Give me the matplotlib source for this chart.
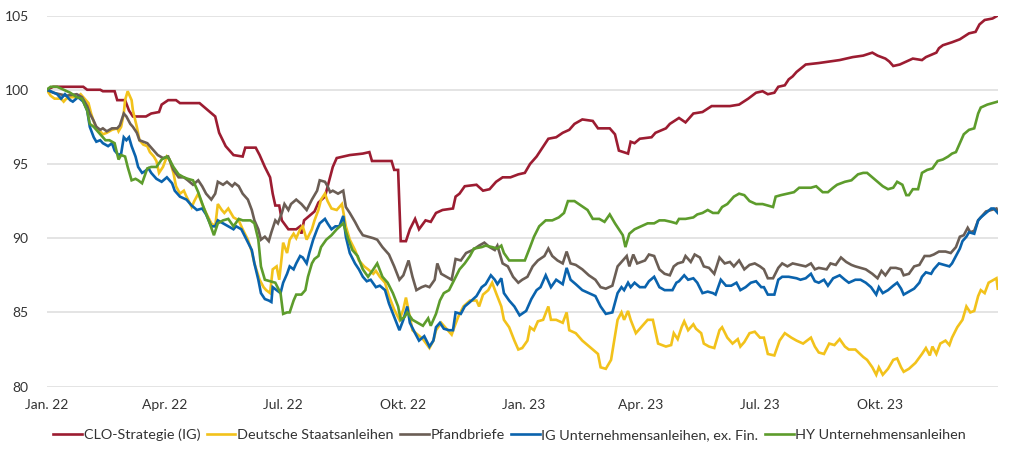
import matplotlib
matplotlib.use("Agg")
import matplotlib.pyplot as plt
import pandas as pd

# Index (Jan. 2022 = 100); x = days since 2022-01-01
clo_days = [0, 5, 28, 31, 41, 43, 52, 54, 60, 63, 66, 76, 80, 86, 88, 93, 99, 102, 117, 121,
            125, 129, 132, 137, 143, 150, 152, 160, 163, 167, 171, 173, 175, 178, 180, 185, 191,
            194, 195, 197, 205, 208, 213, 216, 219, 222, 232, 242, 247, 249, 264, 266, 269, 271,
            275, 278, 282, 285, 290, 294, 298, 303, 311, 313, 316, 320, 329, 334, 339, 344, 349,
            355, 361, 366, 370, 375, 378, 384, 390, 395, 400, 404, 410, 418, 422, 431, 435, 438,
            445, 447, 450, 454, 463, 466, 474, 477, 484, 489, 495, 502, 509, 523, 530, 537, 543,
            548, 552, 557, 560, 565, 568, 571, 574, 581, 591, 599, 607, 617, 625, 632, 636, 642,
            645, 648, 653, 658, 663, 670, 673, 681, 683, 686, 693, 699, 706, 711, 714, 718, 724, 728]
clo_vals = [100.0, 100.2, 100.2, 100.0, 100.0, 99.9, 99.9, 99.3, 99.3, 98.6, 98.2, 98.2, 98.4,
            98.5, 99.0, 99.3, 99.3, 99.1, 99.1, 98.8, 98.5, 98.2, 97.1, 96.2, 95.6, 95.5, 96.1,
            96.1, 95.6, 94.8, 94.1, 93.0, 92.2, 92.2, 91.2, 90.6, 90.6, 90.8, 90.3, 91.2, 91.8,
            92.4, 92.8, 93.8, 94.8, 95.4, 95.6, 95.7, 95.8, 95.2, 95.2, 94.6, 94.6, 89.8, 89.8,
            90.6, 91.3, 90.6, 91.2, 91.1, 91.7, 91.9, 92.0, 92.8, 93.0, 93.5, 93.6, 93.2, 93.3,
            93.8, 94.1, 94.1, 94.3, 94.4, 95.0, 95.5, 95.9, 96.7, 96.8, 97.1, 97.3, 97.7, 98.0,
            97.9, 97.4, 97.4, 97.0, 95.9, 95.7, 96.5, 96.4, 96.7, 96.8, 97.1, 97.4, 97.7, 98.1,
            97.8, 98.4, 98.5, 98.9, 98.9, 99.0, 99.4, 99.8, 99.9, 99.7, 99.8, 100.2, 100.3, 100.7,
            100.9, 101.2, 101.7, 101.8, 101.9, 102.0, 102.2, 102.3, 102.5, 102.3, 102.1, 101.9,
            101.6, 101.7, 101.9, 102.1, 102.0, 102.2, 102.5, 102.8, 103.0, 103.2, 103.4, 103.8,
            103.9, 104.4, 104.7, 104.8, 105.0]

bund_days = [0, 3, 6, 11, 13, 15, 19, 23, 26, 28, 32, 34, 37, 41, 43, 46, 50, 54, 55, 57, 59,
             60, 62, 65, 66, 69, 71, 74, 77, 79, 82, 84, 86, 89, 92, 94, 97, 99, 102, 105, 107,
             111, 113, 116, 119, 122, 126, 129, 131, 134, 136, 139, 143, 147, 150, 154, 157, 159,
             163, 166, 168, 171, 173, 176, 178, 180, 181, 184, 186, 189, 191, 194, 196, 199, 203,
             205, 208, 210, 213, 215, 218, 222, 226, 229, 232, 236, 239, 243, 246, 250, 252, 255,
             259, 262, 266, 270, 273, 275, 278, 280, 284, 288, 293, 296, 298, 302, 306, 310, 312,
             315, 319, 324, 329, 331, 334, 338, 341, 344, 348, 350, 354, 358, 361, 364, 368, 370,
             373, 376, 380, 384, 386, 390, 395, 398, 400, 405, 410, 414, 418, 422, 424, 428, 432,
             435, 437, 440, 442, 445, 447, 451, 455, 460, 464, 468, 474, 478, 480, 483, 486, 488,
             491, 495, 497, 501, 503, 507, 511, 515, 517, 521, 525, 529, 531, 534, 538, 542, 546,
             549, 552, 557, 561, 565, 570, 574, 579, 582, 585, 588, 591, 595, 599, 603, 607, 611,
             614, 619, 625, 628, 632, 635, 637, 640, 644, 648, 651, 654, 656, 660, 665, 670, 673,
             676, 678, 681, 684, 688, 691, 693, 697, 701, 704, 707, 710, 713, 715, 718, 721, 725,
             727, 728]
bund_vals = [100.0, 99.6, 99.4, 99.4, 99.2, 99.4, 99.5, 99.5, 99.7, 99.5, 99.1, 98.4, 97.6, 97.2,
             97.0, 97.1, 97.3, 97.4, 97.2, 97.5, 98.4, 99.3, 99.9, 99.3, 98.6, 97.5, 96.6, 96.3,
             96.2, 95.8, 95.5, 95.2, 94.4, 94.8, 95.5, 95.3, 94.4, 93.5, 93.0, 93.2, 92.8, 92.1,
             92.5, 93.0, 92.3, 91.7, 91.0, 90.8, 92.3, 91.9, 91.7, 92.0, 91.4, 91.2, 90.6, 89.9,
             89.1, 88.3, 87.2, 86.7, 86.5, 86.3, 87.9, 88.1, 87.2, 88.8, 89.7, 89.0, 89.9, 90.3,
             90.0, 90.6, 90.8, 89.9, 90.6, 91.2, 91.9, 92.6, 93.0, 92.5, 92.0, 91.9, 92.3, 90.8,
             89.9, 89.2, 88.5, 88.1, 87.9, 87.6, 87.8, 87.4, 87.0, 86.1, 85.2, 84.5, 85.2, 86.0,
             84.7, 83.8, 83.5, 83.2, 82.6, 83.1, 83.8, 84.3, 83.9, 83.5, 84.0, 84.7, 85.4, 85.8,
             85.8, 85.4, 86.2, 86.5, 87.0, 86.3, 85.4, 84.5, 84.0, 83.1, 82.5, 82.6, 83.1, 84.0,
             83.8, 84.4, 84.5, 85.4, 84.5, 84.5, 84.3, 85.0, 83.8, 83.6, 83.1, 82.8, 82.5, 82.2,
             81.3, 81.2, 81.8, 83.4, 84.5, 85.0, 84.5, 85.1, 84.5, 83.6, 84.0, 84.5, 84.5, 82.9,
             82.7, 82.8, 83.6, 83.2, 84.0, 84.4, 83.8, 84.2, 83.9, 83.6, 82.9, 82.7, 82.6, 83.8,
             84.0, 83.3, 82.9, 83.2, 82.7, 83.0, 83.6, 83.7, 83.3, 83.3, 82.2, 82.1, 83.1, 83.6,
             83.3, 83.1, 82.9, 83.1, 83.3, 82.7, 82.3, 82.2, 82.9, 82.8, 83.2, 82.7, 82.5, 82.5,
             82.0, 81.8, 81.3, 80.8, 81.3, 80.8, 81.2, 81.8, 81.9, 81.3, 81.0, 81.2, 81.6, 82.2,
             82.6, 82.1, 82.7, 82.2, 82.9, 83.1, 82.8, 83.3, 84.0, 84.5, 85.4, 85.0, 85.1, 86.1,
             86.5, 86.3, 87.0, 87.2, 87.3, 86.6]

pfand_days = [0, 5, 10, 15, 23, 27, 31, 33, 36, 38, 41, 43, 46, 50, 54, 56, 59, 61, 64, 66, 69,
              71, 77, 79, 82, 85, 89, 93, 97, 101, 105, 108, 112, 116, 119, 122, 126, 129, 131,
              135, 138, 142, 144, 147, 150, 154, 157, 159, 162, 164, 167, 170, 172, 175, 177, 180,
              182, 185, 187, 191, 195, 199, 203, 207, 209, 213, 215, 217, 219, 223, 227, 229, 232,
              236, 239, 242, 246, 250, 253, 257, 262, 266, 270, 273, 277, 280, 283, 287, 290, 293,
              297, 299, 302, 306, 310, 313, 317, 321, 326, 331, 335, 339, 343, 345, 349, 353, 357,
              361, 364, 368, 372, 376, 381, 384, 387, 391, 395, 398, 401, 405, 410, 415, 420, 424,
              428, 433, 437, 441, 444, 446, 449, 452, 458, 461, 465, 469, 473, 477, 480, 483, 487,
              489, 493, 496, 500, 503, 507, 511, 515, 519, 523, 526, 530, 534, 538, 542, 546, 549,
              552, 556, 560, 563, 567, 571, 576, 581, 585, 588, 591, 597, 600, 604, 608, 612, 616,
              619, 623, 627, 632, 636, 639, 642, 646, 650, 654, 656, 660, 664, 668, 672, 676, 679,
              683, 688, 692, 696, 699, 702, 705, 707, 710, 713, 715, 719, 723, 727, 728]
pfand_vals = [100.0, 99.8, 99.7, 99.6, 99.7, 99.5, 98.9, 98.4, 97.9, 97.5, 97.3, 97.4, 97.2, 97.4,
              97.4, 97.6, 98.4, 98.2, 97.7, 97.5, 97.1, 96.6, 96.4, 96.2, 95.9, 95.6, 95.4, 95.5,
              94.6, 94.1, 94.1, 93.9, 93.6, 93.9, 93.5, 93.0, 92.6, 93.0, 93.8, 93.6, 93.8, 93.5,
              93.7, 93.5, 93.0, 92.6, 91.9, 91.2, 90.6, 89.9, 90.1, 89.8, 90.4, 91.2, 91.0, 91.7,
              92.3, 91.9, 92.3, 92.6, 92.3, 91.9, 92.6, 93.2, 93.9, 93.8, 93.5, 93.1, 93.2, 93.0,
              93.2, 92.1, 91.7, 91.1, 90.6, 90.2, 90.1, 90.0, 89.9, 89.4, 88.9, 88.1, 87.2, 87.5,
              88.5, 87.4, 86.5, 86.7, 86.8, 86.7, 87.2, 88.3, 87.6, 87.4, 87.2, 88.6, 88.5, 89.0,
              89.2, 89.5, 89.7, 89.4, 89.2, 89.5, 88.3, 88.1, 87.4, 87.0, 87.2, 87.4, 88.1, 88.5,
              88.8, 89.3, 88.8, 88.5, 88.3, 89.1, 88.3, 88.2, 87.9, 87.5, 87.2, 86.7, 86.6, 86.8,
              88.1, 88.5, 88.8, 88.1, 88.9, 88.3, 88.5, 88.9, 88.8, 87.9, 87.6, 87.5, 88.1, 88.3,
              88.4, 88.8, 88.4, 88.9, 88.7, 88.1, 88.0, 87.6, 88.7, 88.3, 88.4, 88.1, 88.5, 87.9,
              88.2, 88.3, 88.1, 87.9, 87.3, 87.3, 88.0, 88.3, 88.1, 88.3, 88.2, 88.1, 88.3, 87.9,
              88.0, 87.9, 88.3, 88.2, 88.7, 88.4, 88.2, 88.1, 88.0, 87.9, 87.6, 87.3, 87.8, 87.5,
              88.0, 88.0, 87.9, 87.5, 87.6, 88.1, 88.2, 88.8, 88.8, 88.9, 89.1, 89.1, 89.0, 89.4,
              90.1, 90.2, 90.7, 90.4, 90.5, 91.2, 91.4, 91.8, 91.9, 92.0, 91.8]

ig_days = [0, 3, 8, 11, 14, 18, 20, 24, 28, 31, 33, 36, 38, 41, 43, 47, 50, 52, 55, 57, 59, 61,
           63, 65, 68, 70, 73, 75, 78, 80, 84, 88, 92, 96, 98, 102, 107, 111, 115, 119, 122, 126,
           129, 131, 135, 139, 143, 145, 149, 153, 157, 159, 162, 164, 167, 170, 172, 173, 176,
           179, 181, 184, 186, 189, 191, 194, 196, 199, 201, 204, 207, 209, 213, 215, 218, 221,
           224, 227, 229, 232, 236, 239, 242, 245, 248, 252, 255, 259, 262, 266, 270, 273, 276,
           278, 282, 285, 289, 293, 296, 298, 301, 304, 308, 311, 313, 317, 320, 324, 329, 333,
           336, 340, 343, 345, 348, 350, 354, 358, 362, 367, 371, 375, 378, 382, 386, 390, 395,
           398, 401, 405, 410, 415, 420, 424, 428, 433, 437, 440, 442, 445, 447, 450, 454, 458,
           461, 465, 469, 473, 479, 482, 484, 488, 491, 495, 498, 502, 506, 510, 512, 516, 520,
           524, 528, 531, 535, 539, 543, 547, 549, 552, 557, 560, 563, 568, 574, 577, 581, 585,
           588, 591, 595, 598, 602, 607, 611, 614, 619, 623, 627, 631, 635, 637, 640, 644, 648,
           651, 654, 656, 660, 664, 668, 670, 673, 677, 679, 683, 687, 691, 693, 696, 699, 701,
           704, 706, 710, 713, 715, 719, 723, 725, 728]
ig_vals = [100.0, 99.9, 99.7, 99.4, 99.7, 99.3, 99.2, 99.5, 99.2, 98.6, 97.5, 96.8, 96.5, 96.6,
           96.4, 96.2, 96.4, 95.9, 95.6, 95.7, 96.8, 96.6, 96.8, 96.2, 95.5, 94.8, 94.4, 94.5, 94.7,
           94.4, 94.0, 93.8, 94.1, 93.7, 93.2, 92.8, 92.6, 92.2, 91.9, 92.0, 91.6, 90.8, 90.8, 91.2,
           91.0, 90.8, 90.6, 90.8, 90.6, 89.9, 89.2, 88.3, 87.2, 86.3, 85.9, 85.8, 85.7, 86.7, 86.5,
           86.3, 87.0, 87.6, 88.1, 87.9, 88.3, 88.8, 88.7, 88.3, 89.0, 89.9, 90.6, 91.0, 91.3, 91.0,
           90.6, 90.8, 90.8, 91.5, 90.1, 89.0, 88.3, 87.9, 87.4, 87.1, 87.2, 86.7, 86.8, 86.5, 85.6,
           84.7, 83.8, 84.5, 85.4, 84.3, 83.6, 83.1, 83.4, 82.7, 83.1, 84.0, 84.3, 83.9, 83.8, 83.8,
           85.0, 84.9, 85.4, 85.7, 86.1, 86.7, 86.9, 87.5, 87.2, 86.9, 87.3, 86.3, 85.8, 85.4, 84.8,
           85.1, 85.9, 86.5, 86.7, 87.5, 86.7, 87.2, 86.9, 88.0, 87.2, 86.9, 86.5, 86.3, 86.1, 85.4,
           84.9, 85.0, 86.3, 86.7, 86.5, 87.0, 86.7, 87.0, 86.7, 86.7, 87.1, 87.4, 86.7, 86.5, 86.5,
           87.0, 87.1, 87.5, 87.2, 87.3, 87.0, 86.3, 86.4, 86.3, 86.2, 87.2, 86.8, 86.8, 87.0, 86.5,
           86.7, 87.0, 87.1, 86.7, 86.7, 86.2, 86.2, 87.2, 87.4, 87.4, 87.3, 87.2, 87.3, 87.6, 87.1,
           87.0, 87.2, 86.8, 87.3, 87.5, 87.2, 87.0, 87.2, 87.2, 87.0, 86.7, 86.2, 86.7, 86.3, 86.5,
           86.8, 87.0, 86.6, 86.2, 86.4, 86.6, 87.0, 87.4, 87.7, 87.6, 87.9, 88.3, 88.2, 88.1, 88.3,
           88.8, 89.3, 89.8, 90.1, 90.4, 90.3, 91.2, 91.4, 91.7, 92.0, 92.0, 91.7]

hy_days = [0, 3, 8, 13, 18, 23, 27, 31, 33, 36, 38, 41, 45, 48, 52, 55, 57, 60, 62, 65, 68, 70,
           73, 77, 80, 84, 88, 92, 94, 97, 101, 105, 108, 112, 116, 120, 124, 128, 131, 135, 139,
           143, 147, 150, 156, 159, 162, 164, 167, 171, 175, 179, 181, 184, 186, 189, 191, 195,
           198, 200, 203, 205, 208, 210, 214, 218, 222, 227, 231, 234, 238, 242, 246, 250, 253,
           257, 261, 265, 269, 271, 274, 276, 280, 284, 288, 292, 294, 298, 301, 304, 308, 312,
           316, 320, 324, 327, 333, 336, 341, 345, 348, 350, 354, 359, 366, 370, 373, 377, 382,
           387, 392, 396, 399, 404, 409, 414, 418, 423, 427, 431, 435, 438, 441, 443, 446, 450,
           455, 460, 465, 469, 473, 478, 482, 484, 489, 495, 498, 502, 506, 510, 514, 517, 521,
           526, 530, 534, 538, 543, 548, 552, 556, 558, 562, 567, 572, 576, 581, 585, 589, 594,
           598, 602, 605, 611, 616, 621, 625, 628, 632, 636, 640, 644, 648, 651, 655, 658, 660,
           663, 667, 670, 674, 678, 682, 686, 690, 693, 696, 699, 702, 706, 710, 713, 715, 720,
           724, 728]
hy_vals = [100.0, 100.2, 100.2, 100.0, 99.8, 99.5, 99.4, 98.6, 97.7, 97.5, 97.3, 97.0, 96.6, 96.6,
           96.4, 95.3, 95.6, 95.5, 94.8, 93.9, 94.0, 93.9, 93.7, 94.7, 94.8, 94.8, 95.3, 95.5, 95.3,
           94.8, 94.3, 94.1, 94.0, 93.9, 93.1, 92.1, 91.2, 90.2, 91.0, 91.2, 91.3, 90.8, 91.3, 91.2,
           91.2, 91.0, 89.9, 88.1, 87.2, 87.1, 87.0, 86.3, 84.9, 85.0, 85.0, 85.8, 86.2, 86.2, 86.5,
           87.4, 88.3, 88.6, 88.8, 89.4, 89.9, 90.2, 90.6, 91.0, 89.9, 89.2, 88.8, 87.9, 87.4, 87.9,
           88.3, 87.4, 87.0, 86.3, 85.4, 84.5, 84.7, 85.0, 84.5, 84.3, 84.1, 84.6, 84.1, 84.9, 85.8,
           86.3, 86.5, 87.2, 87.9, 88.3, 88.8, 89.3, 89.4, 89.5, 89.4, 89.3, 89.5, 89.0, 88.5, 88.5,
           88.5, 89.4, 90.1, 90.8, 91.2, 91.2, 91.4, 91.7, 92.5, 92.5, 92.2, 91.9, 91.3, 91.3, 91.1,
           91.6, 91.0, 90.6, 90.2, 89.4, 90.3, 90.6, 90.8, 91.0, 91.0, 91.2, 91.2, 91.1, 91.0, 91.3,
           91.3, 91.4, 91.6, 91.7, 91.9, 91.7, 91.7, 92.1, 92.3, 92.8, 93.0, 92.9, 92.5, 92.3, 92.3,
           92.2, 92.1, 92.8, 92.9, 93.0, 93.1, 93.4, 93.4, 93.4, 93.5, 93.1, 93.1, 93.4, 93.6, 93.8,
           93.9, 94.3, 94.4, 94.4, 94.1, 93.8, 93.5, 93.3, 93.4, 93.8, 93.6, 92.9, 92.9, 93.3, 93.3,
           94.4, 94.6, 94.7, 95.2, 95.3, 95.5, 95.7, 95.8, 96.4, 97.0, 97.3, 97.4, 98.4, 98.8, 99.0,
           99.1, 99.2]

labels = ["CLO-Strategie (IG)", "Deutsche Staatsanleihen", "Pfandbriefe",
          "IG Unternehmensanleihen, ex. Fin.", "HY Unternehmensanleihen"]
colors = ["#9c1c31", "#f2c21b", "#6b5e55", "#0a63ad", "#5d9c2c"]

tick_dates = ["2022-01-01", "2022-04-01", "2022-07-01", "2022-10-01",
              "2023-01-01", "2023-04-01", "2023-07-01", "2023-10-01"]
tick_labels = ["Jan. 22", "Apr. 22", "Jul. 22", "Okt. 22",
               "Jan. 23", "Apr. 23", "Jul. 23", "Okt. 23"]

start = pd.Timestamp("2022-01-01")


def to_dates(days):
    return start + pd.to_timedelta(days, unit="D")


plt.rcParams["font.family"] = ["Lato", "DejaVu Sans"]
text_color = "#333333"

fig = plt.figure(figsize=(10.15, 4.57), dpi=100)
ax = fig.add_axes([0.046, 0.154, 0.937, 0.812])

series = [(clo_days, clo_vals), (bund_days, bund_vals), (pfand_days, pfand_vals),
          (ig_days, ig_vals), (hy_days, hy_vals)]
for (d, v), lab, col in zip(series, labels, colors):
    ax.plot(to_dates(d), v, color=col, lw=1.9, label=lab, solid_joinstyle="miter")

ax.set_ylim(80, 105)
ax.set_yticks([80, 85, 90, 95, 100, 105])
ax.set_xlim(start, to_dates([728])[0])
ax.set_xticks(pd.to_datetime(tick_dates))
ax.set_xticklabels(tick_labels)

ax.grid(axis="y", color="#dcdcdc", lw=1.1)
ax.set_axisbelow(True)
for s in ax.spines.values():
    s.set_visible(False)
ax.tick_params(axis="both", length=0, labelsize=10, colors=text_color)
ax.tick_params(axis="y", pad=13)
ax.tick_params(axis="x", pad=9)

leg = fig.legend(loc="center", bbox_to_anchor=(0.502, 0.048), ncol=5, frameon=False,
                 fontsize=10.4, handlelength=2.0, handletextpad=0.1, columnspacing=0.45)
for t in leg.get_texts():
    t.set_color(text_color)

fig.savefig("out.png", dpi=100)
